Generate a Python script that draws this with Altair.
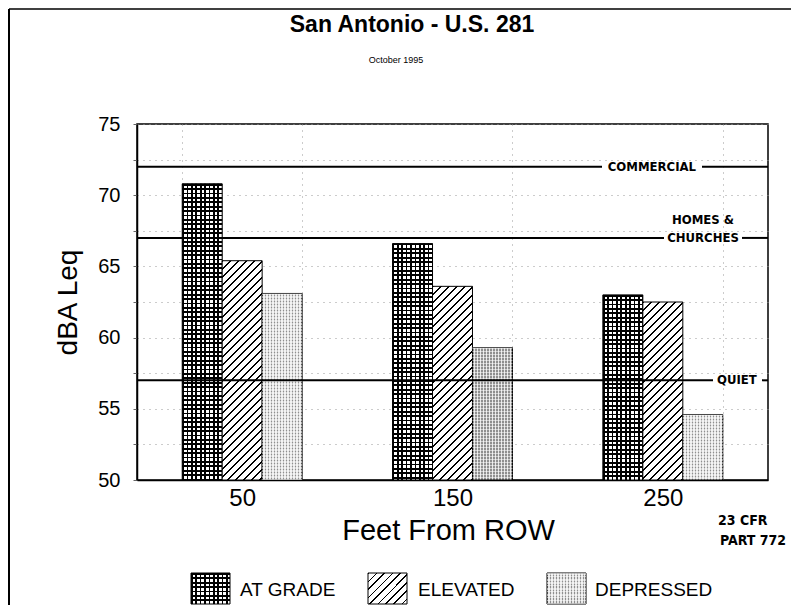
import altair as alt
import pandas as pd

# ---------------- data ----------------
distances = ["50", "150", "250"]
types = ["AT GRADE", "ELEVATED", "DEPRESSED"]
at_grade = [70.8, 66.6, 63.0]
elevated = [65.4, 63.6, 62.5]
depressed = [63.1, 59.3, 54.6]
threshold_values = [72, 67, 57]
y_tick_values = [50, 52.5, 55, 57.5, 60, 62.5, 65, 67.5, 70, 72.5, 75]

series = {"AT GRADE": at_grade, "ELEVATED": elevated, "DEPRESSED": depressed}
rows = []
for t in types:
    for d, v in zip(distances, series[t]):
        rows.append({"dist": d, "type": t, "value": v})
df = pd.DataFrame(rows)

# ---------------- layout ----------------
W, H = 631, 356
Y0, Y1 = 50, 75
P_IN = 0.43
BAR_W = W / 3 * (1 - P_IN) / 3
FONT = "Liberation Sans, Arial, sans-serif"
HAND = "DejaVu Sans Condensed, Liberation Sans Narrow, sans-serif"

xscale = alt.Scale(domain=distances, paddingInner=P_IN, paddingOuter=P_IN / 2)
xoscale = alt.Scale(domain=types, paddingInner=0, paddingOuter=0)
yscale = alt.Scale(domain=[Y0, Y1], nice=False, zero=False)

yaxis = alt.Axis(
    values=y_tick_values,
    labelExpr="datum.value % 5 == 0 ? datum.label : ''",
    title="dBA Leq", titleFont=FONT, titleFontSize=28, titleFontWeight="normal",
    titleColor="black", titleX=-69, titleY=178, titleAngle=270,
    titleAlign="center", titleBaseline="middle",
    labelFont=FONT, labelFontSize=20, labelColor="black", labelPadding=13,
    tickSize=4, tickColor="#666", domainColor="black", domainWidth=1.5,
    grid=True, gridColor="#999", gridDash=[1, 5], gridWidth=1,
)
xaxis = alt.Axis(
    title="Feet From ROW", titleFont=FONT, titleFontSize=29, titleFontWeight="normal",
    titleColor="black", titleX=311, titleY=50, titleAlign="center", titleBaseline="middle",
    labelFont=FONT, labelFontSize=24, labelColor="black", labelAngle=0, labelPadding=6,
    ticks=False, domainColor="black", domainWidth=1.5,
    grid=True, tickBand="extent", gridColor="#999", gridDash=[1, 5], gridWidth=1,
)


def stripes(period, line, length, c_on, c_off):
    stops = []
    c = 0.0
    while c < length - 1e-9:
        a = c / length
        b = min((c + line) / length, 1.0)
        stops += [(a, c_on), (b, c_on)]
        if b < 1.0:
            e = min((c + period) / length, 1.0)
            stops += [(b, c_off), (e, c_off)]
        c += period
    return [alt.GradientStop(color=col, offset=round(off, 5)) for off, col in stops]


def grad_cols(w, period, line, c_on, c_off):
    return alt.LinearGradient(gradient="linear", x1=0, y1=0, x2=1, y2=0,
                              stops=stripes(period, line, w, c_on, c_off))


def grad_rows(h, period, line, c_on, c_off):
    return alt.LinearGradient(gradient="linear", x1=0, y1=0, x2=0, y2=1,
                              stops=stripes(period, line, h, c_on, c_off))


def grad_diag(w, h, period, line, c_on, c_off):
    k = (w + h) / (w * w + h * h)
    return alt.LinearGradient(gradient="linear", x1=0, y1=0, x2=round(w * k, 5), y2=round(h * k, 5),
                              stops=stripes(period, line, w + h, c_on, c_off))


def px_h(v):
    return (v - Y0) / (Y1 - Y0) * H


base = alt.Chart(df)


def bar_layer(t, fill, dist=None, stroke=True):
    c = base.transform_filter(alt.datum.type == t)
    if dist is not None:
        c = c.transform_filter(alt.datum.dist == dist)
    kw = dict(fill=fill)
    if stroke:
        kw.update(stroke="black", strokeWidth=1)
    else:
        kw.update(strokeWidth=0)
    return c.mark_bar(**kw).encode(
        x=alt.X("dist:N", scale=xscale, axis=xaxis, sort=distances),
        xOffset=alt.XOffset("type:N", scale=xoscale, sort=types),
        y=alt.Y("value:Q", scale=yscale, axis=yaxis),
        y2=alt.Y2Datum(Y0),
    )


STIP_ON, STIP_OFF = "#8f8f8f", "#e6e6e6"
STIP_ROW = "rgba(255,255,255,0.55)"

layers = []
# AT GRADE : dense black grid
layers.append(bar_layer("AT GRADE", grad_cols(BAR_W, 4.4, 1.7, "black", "white")))
for d, v in zip(distances, at_grade):
    layers.append(bar_layer("AT GRADE", grad_rows(px_h(v), 4.4, 1.7, "black", "rgba(0,0,0,0)"), d, stroke=False))
# ELEVATED : diagonal hatch
for d, v in zip(distances, elevated):
    layers.append(bar_layer("ELEVATED", grad_diag(BAR_W, px_h(v), 8, 1.8, "black", "white"), d))
# DEPRESSED : light stipple
layers.append(bar_layer("DEPRESSED", grad_cols(BAR_W, 3, 1.3, STIP_ON, STIP_OFF)))
for d, v in zip(distances, depressed):
    layers.append(bar_layer("DEPRESSED", grad_rows(px_h(v), 3, 1.5, STIP_ROW, "rgba(0,0,0,0)"), d, stroke=False))

one = alt.InlineData(values=[{"k": 0}])


def hline(val, x0, x1):
    return alt.Chart(one).mark_rule(color="black", strokeWidth=2).encode(
        y=alt.YDatum(val, scale=yscale, axis=yaxis), x=alt.value(x0), x2=alt.value(x1))


def hlabel(val, s, x, align="center", dy=0):
    return alt.Chart(one).mark_text(text=s, font=HAND, fontSize=13, fontWeight="bold",
                                    align=align, baseline="middle", dy=dy, color="black").encode(
        y=alt.YDatum(val, scale=yscale, axis=yaxis), x=alt.value(x))


def txt(s, x, y, size, font=FONT, weight="normal", align="center"):
    return alt.Chart(one).mark_text(text=s, font=font, fontSize=size, fontWeight=weight,
                                    align=align, baseline="middle", color="black").encode(
        x=alt.value(x), y=alt.value(y))


# threshold lines with labels
layers += [
    hline(threshold_values[0], 0, 465), hline(threshold_values[0], 565, W),
    hlabel(threshold_values[0], "COMMERCIAL", 559, align="right"),
    hline(threshold_values[1], 0, 527), hline(threshold_values[1], 605, W),
    hlabel(threshold_values[1], "CHURCHES", 566),
    hlabel(threshold_values[1], "HOMES &", 566, dy=-18),
    hline(threshold_values[2], 0, 576), hline(threshold_values[2], 625, W),
    hlabel(threshold_values[2], "QUIET", 580, align="left"),
]

# titles & notes
layers += [
    txt("San Antonio - U.S. 281", 275, -99, 23, weight="bold"),
    txt("October 1995", 259, -64, 9),
    txt("23 CFR", 581, 397, 14, font=HAND, weight="bold", align="left"),
    txt("PART 772", 583, 417, 14, font=HAND, weight="bold", align="left"),
]

# legend (swatches + labels)
SW, SH = 39, 31
LY0, LY1 = 449, 449 + SH
leg_x = [54, 231, 410]
lab_x = [103, 281, 458]


def swatch(x0, fill, stroke=True):
    kw = dict(fill=fill)
    if stroke:
        kw.update(stroke="black", strokeWidth=1)
    else:
        kw.update(strokeWidth=0)
    return alt.Chart(one).mark_rect(**kw).encode(
        x=alt.value(x0), x2=alt.value(x0 + SW), y=alt.value(LY0), y2=alt.value(LY1))


layers += [
    swatch(leg_x[0], grad_cols(SW, 4.4, 1.7, "black", "white")),
    swatch(leg_x[0], grad_rows(SH, 4.4, 1.7, "black", "rgba(0,0,0,0)"), stroke=False),
    swatch(leg_x[1], grad_diag(SW, SH, 8, 1.8, "black", "white")),
    swatch(leg_x[2], grad_cols(SW, 3, 1.3, STIP_ON, STIP_OFF)),
    swatch(leg_x[2], grad_rows(SH, 3, 1.5, STIP_ROW, "rgba(0,0,0,0)"), stroke=False),
]
for t, lx in zip(types, lab_x):
    layers.append(txt(t, lx, (LY0 + LY1) / 2 + 1, 19, align="left"))

# outer frame lines
layers += [
    alt.Chart(one).mark_rule(color="black", strokeWidth=2).encode(
        x=alt.value(-128), y=alt.value(-115), y2=alt.value(H + 125)),
    alt.Chart(one).mark_rule(color="black", strokeWidth=1.5).encode(
        x=alt.value(-128), x2=alt.value(W + 23), y=alt.value(-115)),
]

chart = alt.layer(*layers).properties(
    width=W, height=H,
    autosize=alt.AutoSizeParams(type="none"),
    padding={"left": 129, "top": 116, "right": 23, "bottom": 125},
    background="white",
).configure_view(stroke="black", strokeWidth=1.5)

chart.save("out.html", embed_options={"renderer": "svg", "actions": False})
